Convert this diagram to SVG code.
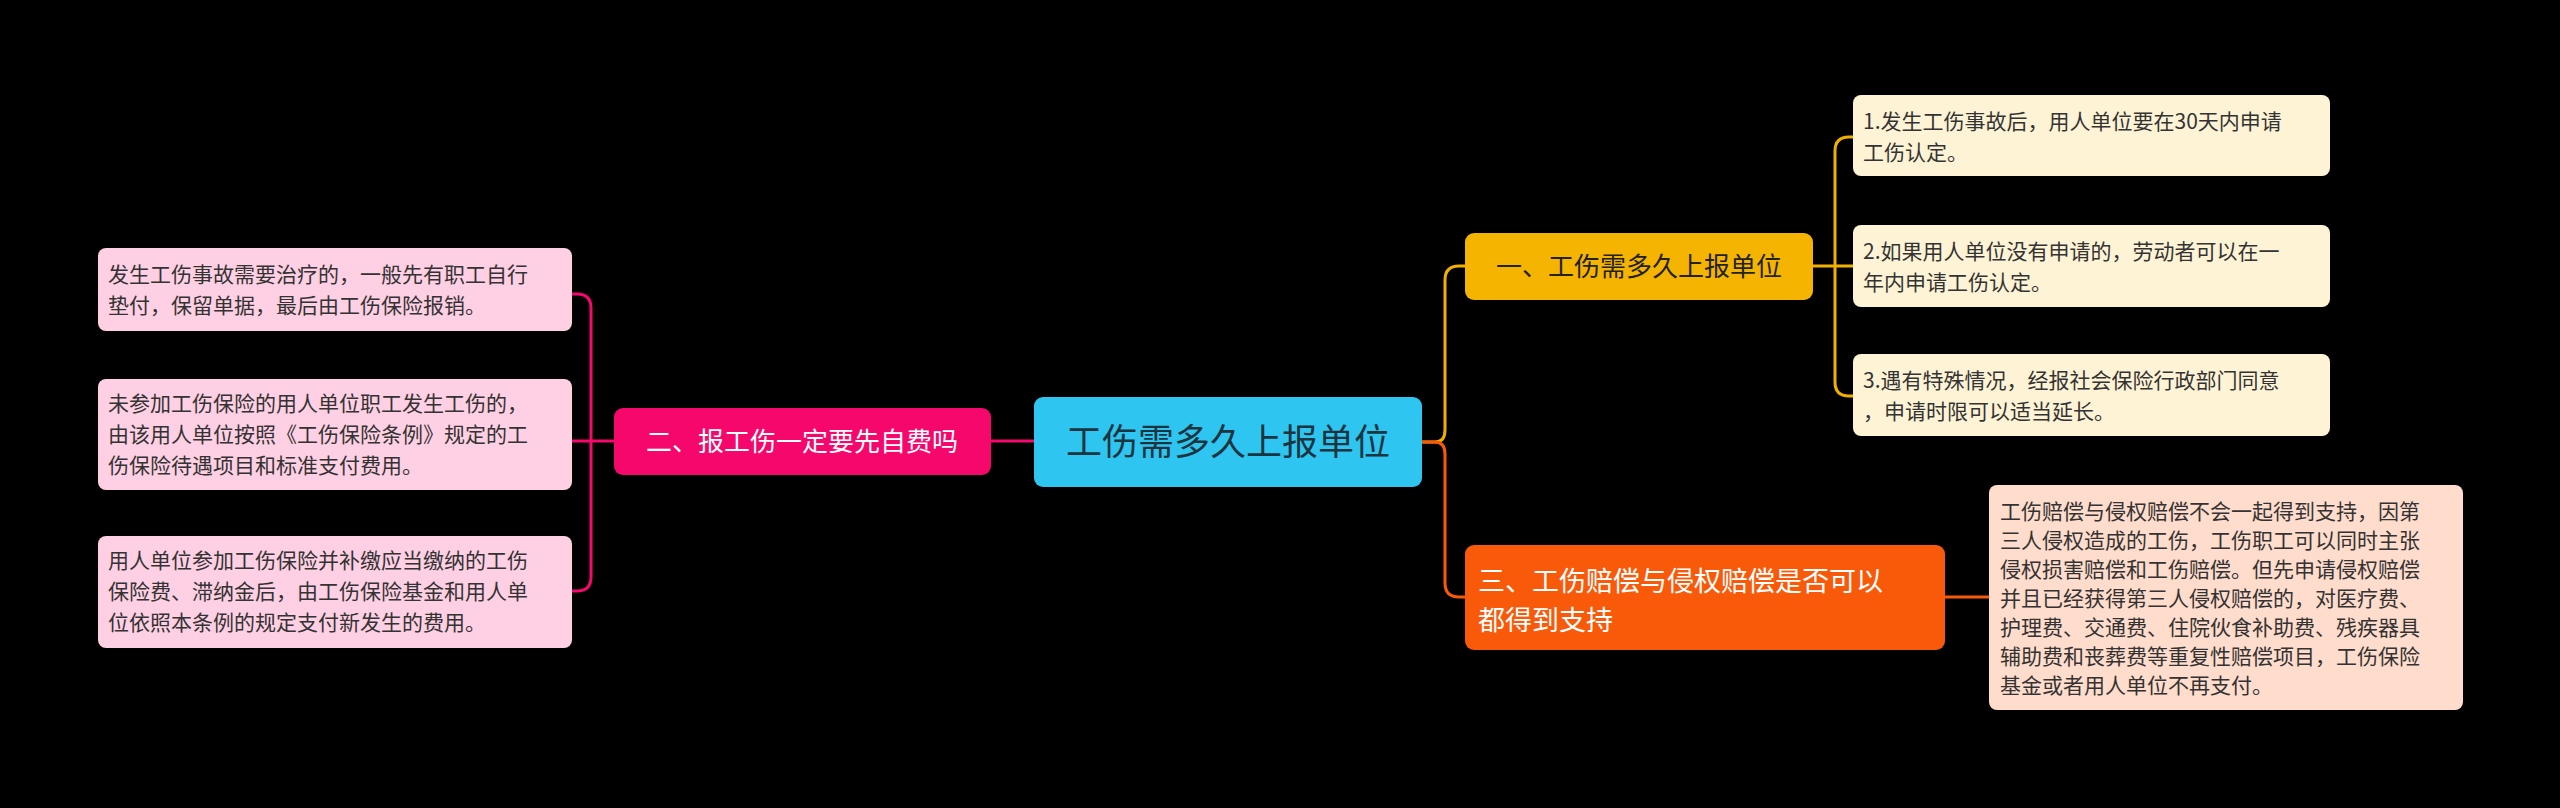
<svg xmlns="http://www.w3.org/2000/svg" width="2560" height="808" viewBox="0 0 2560 808">
<style>
text{font-family:"Noto Sans CJK SC","Noto Sans",sans-serif}
.leaf{font-size:21px;fill:#333}
.c{fill:none;stroke-width:3}
</style>
<rect width="2560" height="808" fill="#000"/>
<g id="connectors">
<path class="c" stroke="#f0b000" d="M1422,442 H1435 Q1445,442 1445,430 V280 Q1445,266 1459,266 H1465"/>
<path class="c" stroke="#f95a0a" d="M1422,442 H1435 Q1445,442 1445,454 V583 Q1445,597 1459,597 H1465"/>
<path class="c" stroke="#f0b000" d="M1813,266 H1835 M1853,137 H1849 Q1835,137 1835,151 V382 Q1835,396 1849,396 H1853 M1835,266 H1853"/>
<path class="c" stroke="#f95a0a" d="M1945,597 H1989"/>
<path class="c" stroke="#f5076b" d="M1034,441 H991"/>
<path class="c" stroke="#f5076b" d="M614,441 H591 M572,294 H577 Q591,294 591,308 V577 Q591,591 577,591 H572 M591,441 H572"/>
</g>
<g id="center"><rect x="1034" y="397" width="388" height="90" rx="9" fill="#2ec5f0"/><text x="1228" y="455" font-size="36" fill="#1a3440" text-anchor="middle">工伤需多久上报单位</text></g>
<g id="n2"><rect x="614" y="408" width="377" height="67" rx="9" fill="#f5076b"/><text x="802" y="451" font-size="26" fill="#fff" text-anchor="middle">二、报工伤一定要先自费吗</text></g>
<g id="n1"><rect x="1465" y="233" width="348" height="67" rx="9" fill="#f5b400"/><text x="1639" y="276" font-size="26" fill="#222" text-anchor="middle">一、工伤需多久上报单位</text></g>
<g id="n3"><rect x="1465" y="545" width="480" height="105" rx="9" fill="#f95a0a"/><text x="1478" y="591" font-size="27" fill="#fff">三、工伤赔偿与侵权赔偿是否可以</text><text x="1478" y="630" font-size="27" fill="#fff">都得到支持</text></g>
<g id="l1"><rect x="98" y="248" width="474" height="83" rx="8" fill="#ffd0e4"/><text class="leaf" x="108" y="282">发生工伤事故需要治疗的，一般先有职工自行</text><text class="leaf" x="108" y="313">垫付，保留单据，最后由工伤保险报销。</text></g>
<g id="l2"><rect x="98" y="379" width="474" height="111" rx="8" fill="#ffd0e4"/><text class="leaf" x="108" y="411">未参加工伤保险的用人单位职工发生工伤的，</text><text class="leaf" x="108" y="442">由该用人单位按照《工伤保险条例》规定的工</text><text class="leaf" x="108" y="473">伤保险待遇项目和标准支付费用。</text></g>
<g id="l3"><rect x="98" y="536" width="474" height="112" rx="8" fill="#ffd0e4"/><text class="leaf" x="108" y="568">用人单位参加工伤保险并补缴应当缴纳的工伤</text><text class="leaf" x="108" y="599">保险费、滞纳金后，由工伤保险基金和用人单</text><text class="leaf" x="108" y="630">位依照本条例的规定支付新发生的费用。</text></g>
<g id="r1"><rect x="1853" y="95" width="477" height="81" rx="8" fill="#fff3d6"/><text class="leaf" x="1863" y="129">1.发生工伤事故后，用人单位要在30天内申请</text><text class="leaf" x="1863" y="160">工伤认定。</text></g>
<g id="r2"><rect x="1853" y="225" width="477" height="82" rx="8" fill="#fff3d6"/><text class="leaf" x="1863" y="259">2.如果用人单位没有申请的，劳动者可以在一</text><text class="leaf" x="1863" y="290">年内申请工伤认定。</text></g>
<g id="r3"><rect x="1853" y="354" width="477" height="82" rx="8" fill="#fff3d6"/><text class="leaf" x="1863" y="388">3.遇有特殊情况，经报社会保险行政部门同意</text><text class="leaf" x="1863" y="419">，申请时限可以适当延长。</text></g>
<g id="r4"><rect x="1989" y="485" width="474" height="225" rx="8" fill="#ffdccc"/>
<text class="leaf" x="2000" y="519">工伤赔偿与侵权赔偿不会一起得到支持，因第</text>
<text class="leaf" x="2000" y="548">三人侵权造成的工伤，工伤职工可以同时主张</text>
<text class="leaf" x="2000" y="577">侵权损害赔偿和工伤赔偿。但先申请侵权赔偿</text>
<text class="leaf" x="2000" y="606">并且已经获得第三人侵权赔偿的，对医疗费、</text>
<text class="leaf" x="2000" y="635">护理费、交通费、住院伙食补助费、残疾器具</text>
<text class="leaf" x="2000" y="664">辅助费和丧葬费等重复性赔偿项目，工伤保险</text>
<text class="leaf" x="2000" y="693">基金或者用人单位不再支付。</text></g>
</svg>
